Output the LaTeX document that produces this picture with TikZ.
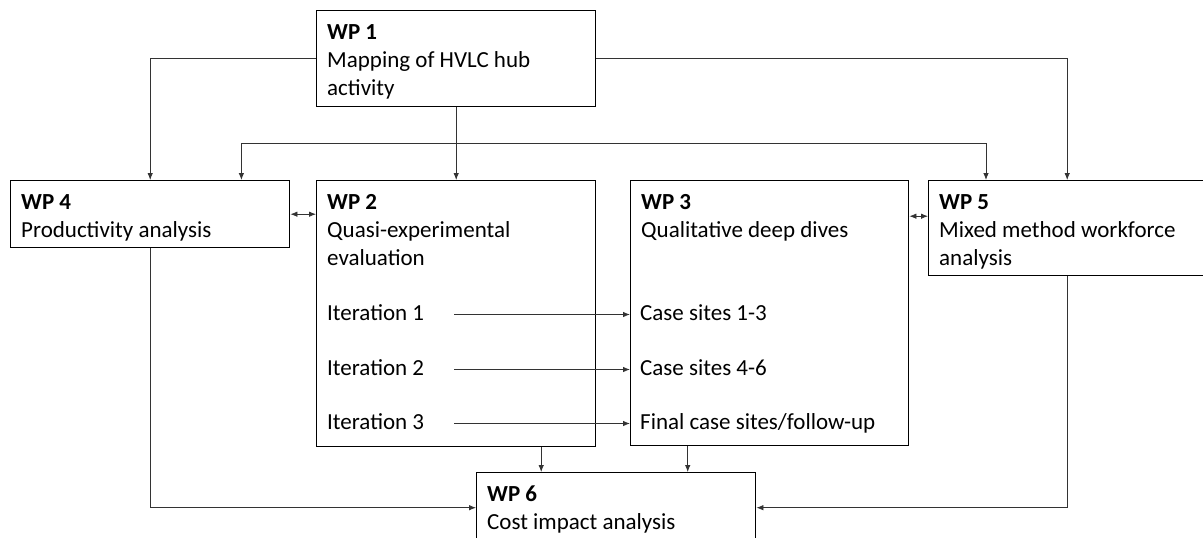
\documentclass[tikz,border=0pt]{standalone}
\usepackage{fontspec}
\setmainfont{Carlito}
\usetikzlibrary{arrows.meta}

\begin{document}
\begin{tikzpicture}[x=1pt,y=-1pt]
\tikzset{box/.style = {shape=rectangle,draw=black,line width=1.4pt,anchor=north west,inner sep=0pt},
    head/.style = {anchor=north west,align=left,inner xsep=11pt,inner ysep=14pt,font=\fontsize{23}{28}\selectfont},
    item/.style = {anchor=base west,inner sep=0pt,text height=16pt,text depth=5pt,font=\fontsize{23}{28}\selectfont},
    conn/.style = {draw=black!80,line width=0.8pt,-{Latex[length=7pt,width=5.5pt]}},
    both/.style = {conn,{Latex[length=7pt,width=5.5pt]}-{Latex[length=7pt,width=5.5pt]}}}
\useasboundingbox (0,0) rectangle (1203,538);
% boxes
\foreach \name/\x/\y/\w/\h in {wp1/316/10/279/96,wp4/10/180/279/67,wp2/316/180/279/266,wp3/630/180/278/265,wp5/928/180/277/95,wp6/476/472/279/70} {
    \node[box,minimum width=\w pt,minimum height=\h pt] (\name) at (\x,\y) {};
}
% headings
\node[head] (t1) at (wp1.north west) {\textbf{WP 1}\\Mapping of HVLC hub\\activity};
\node[head] (t2) at (wp2.north west) {\textbf{WP 2}\\Quasi-experimental\\evaluation};
\node[head] (t3) at (wp3.north west) {\textbf{WP 3}\\Qualitative deep dives};
\node[head] (t4) at (wp4.north west) {\textbf{WP 4}\\Productivity analysis};
\node[head] (t5) at (wp5.north west) {\textbf{WP 5}\\Mixed method workforce\\analysis};
\node[head] (t6) at (wp6.north west) {\textbf{WP 6}\\Cost impact analysis};
% iterations and case sites
\foreach \i/\y/\cs in {1/320/{Case sites 1-3},2/375/{Case sites 4-6},3/429/{Final case sites/follow-up}} {
    \node[item] (it\i) at (327,\y) {Iteration \i};
    \node[item] (cs\i) at (640,\y) {\cs};
    \draw[conn,shorten <=30pt,shorten >=10pt] (it\i.east) -- (cs\i.west);
}
% edges
\coordinate (fork) at (wp1.south |- 0,143);
\draw[conn] (wp1.west) -| (wp4.north);
\draw[conn] (wp1.east) -| (wp5.north);
\draw[conn] (wp1.south) -- (wp2.north);
\draw[conn] (fork) -| ([xshift=-49pt]wp4.north east);
\draw[conn] (fork) -| ([xshift=58pt]wp5.north west);
\draw[both] (wp4.east) -- (wp4.east -| wp2.west);
\draw[both] ([yshift=12pt]wp5.west -| wp3.east) -- ([yshift=12pt]wp5.west);
\draw[conn] ([xshift=85pt]wp2.south) -- ([xshift=85pt]wp2.south |- wp6.north);
\draw[conn] ([xshift=-82pt]wp3.south) -- ([xshift=-82pt]wp3.south |- wp6.north);
\draw[conn] (wp4.south) |- (wp6.west);
\draw[conn] (wp5.south) |- (wp6.east);
\end{tikzpicture}
\end{document}
